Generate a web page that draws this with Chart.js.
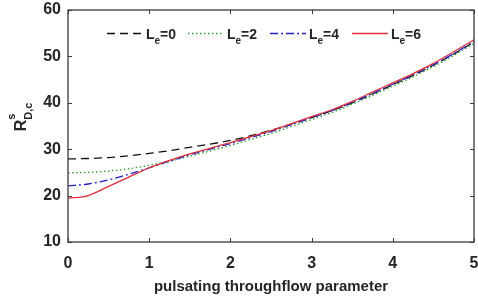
<!DOCTYPE html>
<html>
<head>
<meta charset="utf-8">
<script src="https://cdn.jsdelivr.net/npm/chart.js@4.4.1/dist/chart.umd.min.js"></script>
<style>
  html, body { margin: 0; padding: 0; background: #fff; }
</style>
</head>
<body>
<canvas id="chart" width="478" height="297"></canvas>
<script>
// Pulsating throughflow parameter (x values)
const throughflow = [0, 0.25, 0.5, 0.75, 1, 1.25, 1.5, 1.75, 2, 2.25, 2.5,
                     2.75, 3, 3.25, 3.5, 3.75, 4, 4.25, 4.5, 4.75, 5];

// R^s_{D,c} for each Le
const rLe0 = [27.9, 28.0, 28.2, 28.6, 29.1, 29.7, 30.4, 31.1, 31.9, 32.9, 34.1,
              35.4, 36.8, 38.3, 40.0, 41.9, 43.9, 45.9, 48.1, 50.5, 53.1];
const rLe2 = [24.9, 25.0, 25.3, 25.8, 26.5, 27.4, 28.5, 29.6, 30.8, 32.1, 33.4,
              34.9, 36.4, 37.9, 39.7, 41.6, 43.6, 45.6, 47.8, 50.2, 52.8];
const rLe4 = [22.1, 22.5, 23.4, 24.6, 26.0, 27.4, 28.8, 30.0, 31.2, 32.5, 33.8,
              35.3, 36.8, 38.3, 40.1, 42.0, 44.0, 46.0, 48.2, 50.6, 53.2];
const rLe6 = [19.4, 20.0, 22.0, 24.0, 26.0, 27.6, 29.0, 30.2, 31.4, 32.7, 34.0,
              35.5, 37.0, 38.5, 40.3, 42.3, 44.3, 46.3, 48.5, 51.0, 53.6];

const leValues = ['0', '2', '4', '6'];
const xTicks = [0, 1, 2, 3, 4, 5];
const yTicks = [10, 20, 30, 40, 50, 60];

const FONT = "'Liberation Sans', Arial, sans-serif";
const TEXT = '#262626';

function toPoints(ys) {
    return throughflow.map((x, i) => ({ x: x, y: ys[i] }));
}

function lineSet(ys, color, dash, order) {
    return {
        data: toPoints(ys),
        borderColor: color,
        borderDash: dash,
        borderWidth: 1.3,
        pointRadius: 0,
        showLine: true,
        cubicInterpolationMode: 'monotone',
        order: order,
    };
}

// no extra room for overhanging tick labels; plot box is fixed like the figure
function noPadding(s) {
    s.paddingLeft = 0;
    s.paddingRight = 0;
    s.paddingTop = 0;
    s.paddingBottom = 0;
}

// Axis box, inward ticks, legend and axis titles
const decorations = {
    id: 'decorations',
    afterDraw(chart) {
        const ctx = chart.ctx;
        const a = chart.chartArea;
        const xs = chart.scales.x;
        const ys = chart.scales.y;
        ctx.save();

        // box
        ctx.strokeStyle = '#3a3a3a';
        ctx.lineWidth = 1.3;
        ctx.setLineDash([]);
        ctx.strokeRect(a.left, a.top, a.right - a.left, a.bottom - a.top);

        // inward tick marks on all sides
        ctx.lineWidth = 1;
        ctx.beginPath();
        xTicks.forEach(v => {
            const px = Math.round(xs.getPixelForValue(v)) + 0.5;
            ctx.moveTo(px, a.bottom); ctx.lineTo(px, a.bottom - 4);
            ctx.moveTo(px, a.top); ctx.lineTo(px, a.top + 4);
        });
        yTicks.forEach(v => {
            const py = Math.round(ys.getPixelForValue(v)) + 0.5;
            ctx.moveTo(a.left, py); ctx.lineTo(a.left + 4, py);
            ctx.moveTo(a.right, py); ctx.lineTo(a.right - 4, py);
        });
        ctx.stroke();

        // legend
        const starts = [107, 188, 270, 352];
        const ly = 33;
        chart.data.datasets.forEach((ds, i) => {
            const x0 = starts[i];
            ctx.strokeStyle = ds.borderColor;
            ctx.lineWidth = 1.3;
            ctx.setLineDash(ds.borderDash);
            ctx.beginPath();
            ctx.moveTo(x0, ly + 0.5);
            ctx.lineTo(x0 + 36, ly + 0.5);
            ctx.stroke();
            ctx.setLineDash([]);

            ctx.fillStyle = TEXT;
            ctx.textBaseline = 'alphabetic';
            ctx.textAlign = 'left';
            let tx = x0 + 39;
            ctx.font = 'bold 14px ' + FONT;
            ctx.fillText('L', tx, ly + 6);
            tx += ctx.measureText('L').width;
            ctx.font = 'bold 10px ' + FONT;
            ctx.fillText('e', tx, ly + 11);
            tx += ctx.measureText('e').width;
            ctx.font = 'bold 14px ' + FONT;
            ctx.fillText('=' + leValues[i], tx, ly + 6);
        });

        // x title
        ctx.fillStyle = TEXT;
        ctx.font = 'bold 15px ' + FONT;
        ctx.textAlign = 'center';
        ctx.textBaseline = 'alphabetic';
        ctx.fillText('pulsating throughflow parameter', (a.left + a.right) / 2, 291);

        // y title: R^s_{D,c}
        ctx.translate(26, 117);
        ctx.rotate(-Math.PI / 2);
        ctx.textAlign = 'left';
        ctx.font = 'bold 16px ' + FONT;
        const wR = ctx.measureText('R').width;
        ctx.font = 'bold 11px ' + FONT;
        const wSub = ctx.measureText('D,c').width;
        const total = wR + wSub;
        let sx = -total / 2;
        ctx.font = 'bold 16px ' + FONT;
        ctx.fillText('R', sx, 0);
        sx += wR;
        ctx.font = 'bold 11px ' + FONT;
        ctx.fillText('s', sx, -11);
        ctx.fillText('D,c', sx, 6);
        ctx.restore();
    }
};

new Chart(document.getElementById('chart'), {
    type: 'scatter',
    data: {
        datasets: [
            lineSet(rLe0, '#111111', [8, 5], 3),
            lineSet(rLe2, '#2e9a2e', [1.5, 2.5], 2),
            lineSet(rLe4, '#2323c8', [8, 3, 2, 3], 1),
            lineSet(rLe6, '#e0303c', [], 0),
        ],
    },
    options: {
        responsive: false,
        animation: false,
        devicePixelRatio: 1,
        layout: { padding: { top: 10, right: 4, left: 0, bottom: 0 } },
        plugins: {
            legend: { display: false },
            tooltip: { enabled: false },
        },
        scales: {
            x: {
                type: 'linear',
                min: 0,
                max: 5,
                afterFit: (s) => { s.height = 55; noPadding(s); },
                afterBuildTicks: (s) => { s.ticks = xTicks.map(v => ({ value: v })); },
                grid: { display: false, drawTicks: false },
                border: { display: false },
                ticks: {
                    padding: 12,
                    color: TEXT,
                    font: { family: FONT, size: 16, weight: 'bold' },
                },
            },
            y: {
                min: 10,
                max: 60,
                afterFit: (s) => { s.width = 68; noPadding(s); },
                afterBuildTicks: (s) => { s.ticks = yTicks.map(v => ({ value: v })); },
                grid: { display: false, drawTicks: false },
                border: { display: false },
                ticks: {
                    padding: 7,
                    color: TEXT,
                    font: { family: FONT, size: 16, weight: 'bold' },
                },
            },
        },
    },
    plugins: [decorations],
});
</script>
</body>
</html>
